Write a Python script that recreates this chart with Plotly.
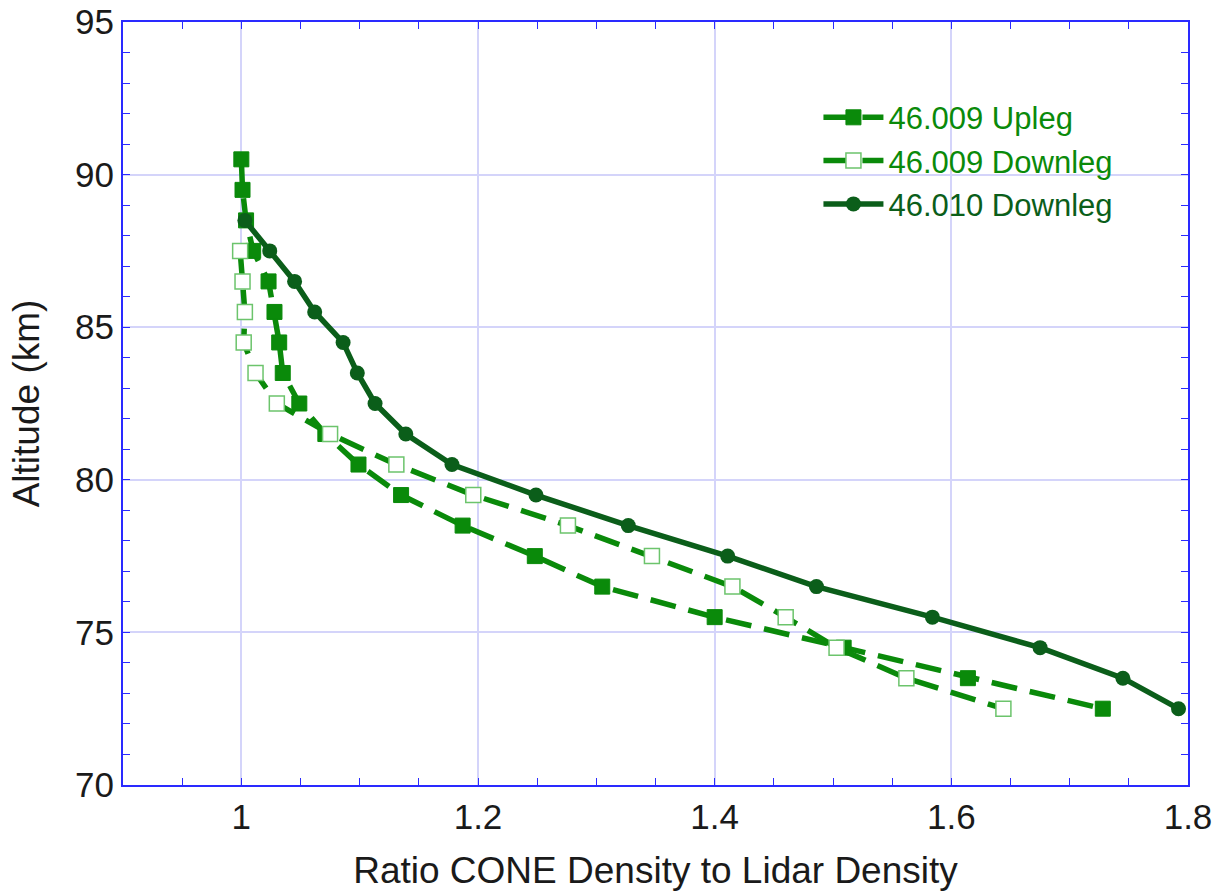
import plotly.graph_objects as go

# Altitude levels (km) for each profile
alt_up = [90.5, 89.5, 88.5, 87.5, 86.5, 85.5, 84.5, 83.5, 82.5, 81.5, 80.5, 79.5,
          78.5, 77.5, 76.5, 75.5, 74.5, 73.5, 72.5]
alt_down9 = [87.5, 86.5, 85.5, 84.5, 83.5, 82.5, 81.5, 80.5, 79.5, 78.5, 77.5,
             76.5, 75.5, 74.5, 73.5, 72.5]
alt_down10 = [88.5, 87.5, 86.5, 85.5, 84.5, 83.5, 82.5, 81.5, 80.5, 79.5, 78.5,
              77.5, 76.5, 75.5, 74.5, 73.5, 72.5]

# Ratio of CONE density to lidar density
ratio_up = [1.000, 1.001, 1.004, 1.010, 1.023, 1.028, 1.032, 1.035, 1.049, 1.071,
            1.099, 1.135, 1.187, 1.248, 1.305, 1.400, 1.509, 1.614, 1.728]
ratio_down9 = [0.999, 1.001, 1.003, 1.002, 1.012, 1.030, 1.075, 1.131, 1.196,
               1.276, 1.347, 1.415, 1.460, 1.503, 1.562, 1.644]
ratio_down10 = [1.003, 1.024, 1.045, 1.062, 1.086, 1.098, 1.113, 1.139, 1.178,
                1.249, 1.327, 1.411, 1.486, 1.584, 1.675, 1.745, 1.792]

x_ticks = [1.0, 1.2, 1.4, 1.6, 1.8]
x_tick_labels = ["1", "1.2", "1.4", "1.6", "1.8"]
y_ticks = [70, 75, 80, 85, 90, 95]

GREEN = "#0a8a0a"
LIGHT_GREEN = "#6cc46c"
DARK_GREEN = "#0b5e1a"
FRAME = "#2a2aff"
GRID = "#d4d4fa"
FONT = "Liberation Sans, Arial, sans-serif"

fig = go.Figure()

fig.add_trace(go.Scatter(
    x=ratio_up, y=alt_up, mode="lines+markers", name="46.009 Upleg",
    line=dict(color=GREEN, width=5.5, dash="26px,13px"),
    marker=dict(symbol="square", size=15, color=GREEN,
                line=dict(color=GREEN, width=1)),
))
fig.add_trace(go.Scatter(
    x=ratio_down9, y=alt_down9, mode="lines+markers", name="46.009 Downleg",
    line=dict(color=GREEN, width=5.5, dash="26px,13px"),
    marker=dict(symbol="square", size=15, color="white",
                line=dict(color=LIGHT_GREEN, width=1.5)),
))
fig.add_trace(go.Scatter(
    x=ratio_down10, y=alt_down10, mode="lines+markers",
    name="<span style='color:%s'>46.010 Downleg</span>" % DARK_GREEN,
    line=dict(color=DARK_GREEN, width=5.5),
    marker=dict(symbol="circle", size=15, color=DARK_GREEN),
))

axis_common = dict(
    showline=True, linecolor=FRAME, linewidth=2, mirror="allticks",
    ticks="inside", ticklen=7, tickcolor=FRAME, tickwidth=1,
    showgrid=True, gridcolor=GRID, gridwidth=1.5, zeroline=False,
    automargin=False,
    tickfont=dict(family=FONT, size=35, color="#1a1a1a"),
    title_font=dict(family=FONT, size=37, color="#1a1a1a"),
)

fig.update_layout(
    width=1225, height=894,
    margin=dict(l=123, r=37, t=22, b=109),
    paper_bgcolor="white", plot_bgcolor="white",
    showlegend=True,
    legend=dict(
        x=0.653, y=0.91, xanchor="left", yanchor="top",
        bgcolor="rgba(0,0,0,0)", borderwidth=0,
        font=dict(family=FONT, size=31, color=GREEN),
        itemwidth=60, tracegroupgap=0,
    ),
    xaxis=dict(
        range=[0.9, 1.8], tickvals=x_ticks, ticktext=x_tick_labels,
        title=dict(text="Ratio CONE Density to Lidar Density", standoff=22),
        minor=dict(dtick=0.05, tick0=0.9, ticks="inside", ticklen=7,
                   tickcolor=FRAME, showgrid=False),
        **axis_common,
    ),
    yaxis=dict(
        range=[70, 95], tickvals=y_ticks,
        title=dict(text="Altitude (km)", standoff=24),
        minor=dict(dtick=1, tick0=70, ticks="inside", ticklen=7,
                   tickcolor=FRAME, showgrid=False),
        **axis_common,
    ),
)

fig.write_html("out.html")
